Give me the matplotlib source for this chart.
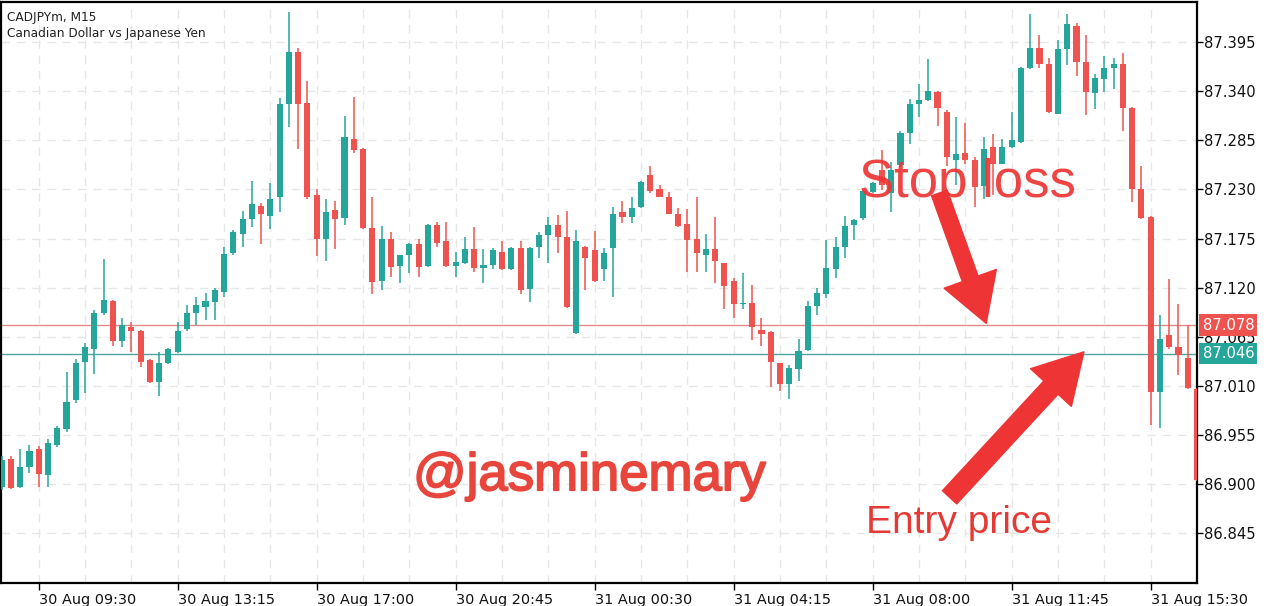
import matplotlib
matplotlib.use("Agg")
import matplotlib.pyplot as plt
from matplotlib.patches import FancyArrowPatch
import matplotlib.patheffects as pe
import numpy as np

# ---------------- data ----------------
opens = [86.897, 86.928, 86.897, 86.919, 86.939, 86.910, 86.944, 86.962, 86.994, 87.037,
         87.051, 87.091, 87.105, 87.060, 87.076, 87.071, 87.039, 87.014, 87.035, 87.048,
         87.074, 87.091, 87.098, 87.104, 87.115, 87.159, 87.180, 87.197, 87.211, 87.200,
         87.221, 87.326, 87.384, 87.327, 87.224, 87.174, 87.207, 87.198, 87.287, 87.275,
         87.187, 87.127, 87.175, 87.144, 87.156, 87.169, 87.144, 87.190, 87.172, 87.144,
         87.147, 87.163, 87.142, 87.145, 87.160, 87.141, 87.164, 87.118, 87.165, 87.179,
         87.190, 87.177, 87.069, 87.166, 87.162, 87.141, 87.164, 87.205, 87.199, 87.210,
         87.246, 87.230, 87.222, 87.203, 87.191, 87.174, 87.156, 87.163, 87.147, 87.127,
         87.102, 87.103, 87.072, 87.070, 87.035, 87.012, 87.029, 87.050, 87.099, 87.113,
         87.141, 87.165, 87.190, 87.198, 87.227, 87.252, 87.226, 87.257, 87.293, 87.326,
         87.330, 87.339, 87.317, 87.263, 87.271, 87.263, 87.234, 87.277, 87.259, 87.277,
         87.283, 87.366, 87.388, 87.370, 87.315, 87.387, 87.413, 87.373, 87.338, 87.354,
         87.366, 87.371, 87.321, 87.231, 87.199, 87.003, 87.067, 87.053, 87.041, 87.006]
highs = [86.931, 86.931, 86.939, 86.944, 86.942, 86.950, 86.965, 87.025, 87.040, 87.058,
         87.095, 87.152, 87.106, 87.086, 87.081, 87.072, 87.040, 87.048, 87.052, 87.082,
         87.100, 87.110, 87.114, 87.119, 87.166, 87.184, 87.206, 87.239, 87.215, 87.237,
         87.332, 87.429, 87.389, 87.352, 87.231, 87.219, 87.217, 87.312, 87.334, 87.276,
         87.222, 87.189, 87.182, 87.157, 87.170, 87.174, 87.191, 87.194, 87.194, 87.160,
         87.177, 87.188, 87.163, 87.164, 87.172, 87.165, 87.172, 87.165, 87.182, 87.199,
         87.201, 87.206, 87.184, 87.167, 87.183, 87.164, 87.210, 87.217, 87.222, 87.239,
         87.256, 87.235, 87.227, 87.209, 87.208, 87.222, 87.180, 87.199, 87.148, 87.131,
         87.136, 87.123, 87.086, 87.071, 87.036, 87.033, 87.062, 87.105, 87.119, 87.173,
         87.177, 87.200, 87.197, 87.231, 87.238, 87.274, 87.261, 87.295, 87.331, 87.348,
         87.376, 87.340, 87.319, 87.311, 87.304, 87.266, 87.289, 87.292, 87.287, 87.317,
         87.367, 87.427, 87.403, 87.377, 87.397, 87.426, 87.417, 87.403, 87.359, 87.379,
         87.377, 87.383, 87.322, 87.256, 87.200, 87.089, 87.130, 87.102, 87.078, 87.007]
lows = [86.893, 86.894, 86.895, 86.912, 86.897, 86.897, 86.941, 86.958, 86.991, 87.002,
        87.023, 87.089, 87.054, 87.053, 87.048, 87.031, 87.013, 86.999, 87.034, 87.047,
        87.071, 87.078, 87.084, 87.084, 87.109, 87.156, 87.166, 87.188, 87.169, 87.186,
        87.205, 87.300, 87.275, 87.219, 87.155, 87.150, 87.163, 87.190, 87.271, 87.186,
        87.113, 87.117, 87.132, 87.125, 87.136, 87.132, 87.143, 87.166, 87.143, 87.132,
        87.146, 87.137, 87.125, 87.141, 87.140, 87.140, 87.113, 87.104, 87.153, 87.147,
        87.159, 87.097, 87.068, 87.117, 87.126, 87.127, 87.110, 87.192, 87.192, 87.209,
        87.226, 87.221, 87.202, 87.188, 87.137, 87.137, 87.137, 87.125, 87.096, 87.086,
        87.096, 87.061, 87.054, 87.009, 87.004, 86.995, 87.015, 87.049, 87.089, 87.108,
        87.131, 87.153, 87.173, 87.196, 87.226, 87.229, 87.205, 87.255, 87.281, 87.311,
        87.329, 87.301, 87.256, 87.235, 87.259, 87.210, 87.219, 87.224, 87.258, 87.276,
        87.282, 87.365, 87.366, 87.316, 87.314, 87.369, 87.357, 87.313, 87.320, 87.339,
        87.342, 87.296, 87.216, 87.197, 86.966, 86.963, 87.051, 87.022, 87.006, 86.903]
closes = [86.927, 86.895, 86.919, 86.937, 86.911, 86.946, 86.963, 86.992, 87.035, 87.053,
          87.091, 87.106, 87.060, 87.078, 87.071, 87.037, 87.014, 87.035, 87.051, 87.071,
          87.091, 87.100, 87.105, 87.117, 87.158, 87.182, 87.197, 87.214, 87.203, 87.219,
          87.326, 87.384, 87.326, 87.221, 87.175, 87.205, 87.197, 87.289, 87.274, 87.187,
          87.126, 87.175, 87.143, 87.156, 87.169, 87.143, 87.190, 87.170, 87.144, 87.149,
          87.163, 87.142, 87.145, 87.162, 87.141, 87.164, 87.117, 87.164, 87.179, 87.190,
          87.177, 87.098, 87.172, 87.153, 87.127, 87.159, 87.202, 87.199, 87.209, 87.238,
          87.228, 87.222, 87.203, 87.189, 87.173, 87.159, 87.163, 87.150, 87.122, 87.102,
          87.103, 87.076, 87.068, 87.037, 87.012, 87.030, 87.049, 87.099, 87.114, 87.142,
          87.165, 87.189, 87.196, 87.228, 87.237, 87.235, 87.252, 87.293, 87.326, 87.330,
          87.340, 87.321, 87.266, 87.270, 87.263, 87.233, 87.275, 87.259, 87.278, 87.285,
          87.366, 87.388, 87.371, 87.317, 87.387, 87.415, 87.373, 87.339, 87.355, 87.366,
          87.371, 87.321, 87.230, 87.198, 87.003, 87.062, 87.053, 87.044, 87.007, 86.904]

xtick_pos = [4, 19, 34, 49, 64, 79, 94, 109, 124]
xtick_labels = ["30 Aug 09:30", "30 Aug 13:15", "30 Aug 17:00", "30 Aug 20:45",
                "31 Aug 00:30", "31 Aug 04:15", "31 Aug 08:00", "31 Aug 11:45",
                "31 Aug 15:30"]
ytick_vals = [86.845, 86.900, 86.955, 87.010, 87.065, 87.120, 87.175,
              87.230, 87.285, 87.340, 87.395]
stop_price = 87.078
entry_price = 87.046

# ---------------- style ----------------
UP = "#26a69a"
DOWN = "#ef5350"
plt.rcParams['font.family'] = ['DejaVu Sans']

fig = plt.figure(figsize=(12.8, 6.06), dpi=100)
ax = fig.add_axes([1 / 1280, 1 - 583 / 606, 1196 / 1280, 581 / 606])

o = np.array(opens); h = np.array(highs); l = np.array(lows); c = np.array(closes)
x = np.arange(len(o))
up = c >= o
cols = np.where(up, UP, DOWN)
body_bottom = np.minimum(o, c)
body_h = np.maximum(np.abs(c - o), 0.0012)

ax.vlines(x, l, h, colors=cols, linewidth=1.1, zorder=3)
ax.bar(x, body_h, bottom=body_bottom, width=0.66, color=cols, linewidth=0, zorder=4)

ax.axhline(stop_price, color="#e08a8a", linewidth=1.0, zorder=2)
ax.axhline(entry_price, color="#4fa59d", linewidth=1.0, zorder=2)

ax.set_xlim(-0.07, 128.88)
ax.set_ylim(86.789, 87.440)

ax.set_xticks(xtick_pos)
ax.set_xticklabels(xtick_labels, ha='left', fontsize=10.4, color='#111111')
ax.set_xticks(np.arange(4, 130, 5), minor=True)
ax.tick_params(axis='x', which='major', direction='out', length=5, width=1, pad=2)
ax.tick_params(axis='x', which='minor', length=0)

ax.yaxis.tick_right()
ax.set_yticks(ytick_vals)
ax.set_yticklabels([f"{v:.3f}" for v in ytick_vals], fontsize=10.6, color='#111111')
ax.tick_params(axis='y', direction='out', length=4, width=1, pad=1)

ax.grid(True, which='both', axis='x', color='#e6e6e6', linestyle=(0, (6, 5)), linewidth=1)
ax.grid(True, which='major', axis='y', color='#e6e6e6', linestyle=(0, (6, 5)), linewidth=1)
ax.set_axisbelow(True)

for s in ax.spines.values():
    s.set_color('black')
    s.set_linewidth(1.6)

# header
ax.text(0.005, 0.985, "CADJPYm, M15", transform=ax.transAxes, fontsize=8.7,
        color='#222222', va='top', ha='left')
ax.text(0.005, 0.957, "Canadian Dollar vs Japanese Yen", transform=ax.transAxes,
        fontsize=8.7, color='#222222', va='top', ha='left')

# price tags
for val, col in ((stop_price, DOWN), (entry_price, UP)):
    ax.annotate(f"{val:.3f}", xy=(1, val), xycoords=('axes fraction', 'data'),
                xytext=(4, 0), textcoords='offset points', va='center', ha='left',
                fontsize=10.6, color='white', annotation_clip=False, zorder=10,
                bbox=dict(boxstyle='square,pad=0.22', fc=col, ec='none'))

# annotations
RED = "#ee3434"
ax.text(92.55, 87.221, "Stop loss", fontsize=38, color=RED, alpha=0.92,
        family='Liberation Sans', va='baseline', ha='left', zorder=6)
ax.text(93.3, 86.845, "Entry price", fontsize=28, color="#e53935",
        family='Liberation Sans', va='baseline', ha='left', zorder=6)
ax.text(44.4, 86.893, "@jasminemary", fontsize=38, color="#e8453c",
        family='Liberation Sans', va='baseline', ha='left', zorder=6,
        path_effects=[pe.withStroke(linewidth=1.3, foreground="#e8453c")])

arr1 = FancyArrowPatch((101.2, 87.226), (106.25, 87.080),
                       arrowstyle='simple,head_length=34,head_width=40,tail_width=12',
                       color=RED, mutation_scale=1, shrinkA=0, shrinkB=0, zorder=7)
ax.add_patch(arr1)
arr2 = FancyArrowPatch((102.3, 86.885), (116.8, 87.048),
                       arrowstyle='simple,head_length=35,head_width=40,tail_width=14',
                       color=RED, mutation_scale=1, shrinkA=0, shrinkB=0, zorder=7)
ax.add_patch(arr2)

fig.savefig("out.png", dpi=100, facecolor='white')
